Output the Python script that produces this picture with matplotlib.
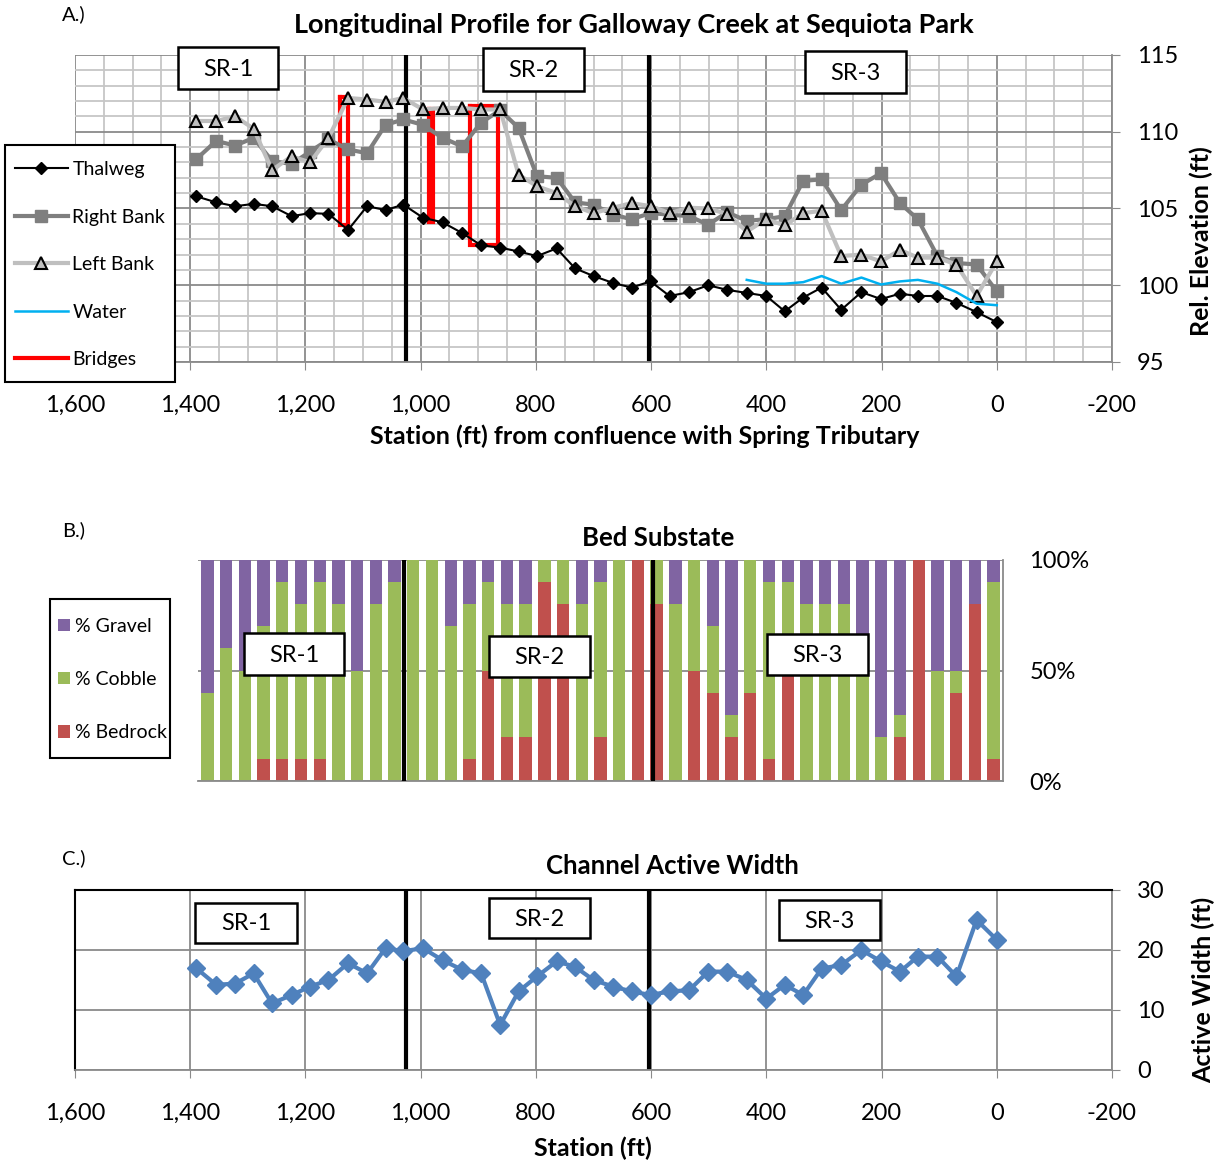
import matplotlib
matplotlib.use("Agg")
import matplotlib.pyplot as plt
from matplotlib.ticker import MultipleLocator, FuncFormatter
from matplotlib.lines import Line2D
from matplotlib.patches import Rectangle

plt.rcParams['font.family'] = ['Lato', 'DejaVu Sans']

# ---- data -------------------------------------------------------------
stations = [1390, 1355, 1322, 1290, 1258, 1224, 1192, 1160, 1126, 1093, 1061,
            1030, 996, 962, 928, 895, 862, 830, 798, 764, 732, 700, 666, 634,
            601, 568, 534, 501, 468, 434, 400, 368, 336, 304, 270, 235, 201,
            168, 137, 103, 70, 35, 0]

thalweg = [105.8, 105.4, 105.15, 105.3, 105.15, 104.5, 104.7, 104.65, 103.6,
           105.15, 104.9, 105.25, 104.4, 104.1, 103.4, 102.6, 102.45, 102.2,
           101.9, 102.4, 101.1, 100.6, 100.15, 99.85, 100.25, 99.3, 99.55,
           100.0, 99.7, 99.5, 99.3, 98.3, 99.2, 99.85, 98.4, 99.55, 99.1,
           99.45, 99.3, 99.3, 98.85, 98.25, 97.6]

right_bank = [108.2, 109.4, 109.1, 109.6, 108.1, 107.9, 108.7, 109.5, 108.85,
              108.6, 110.45, 110.8, 110.45, 109.6, 109.05, 110.6, 111.4,
              110.25, 107.1, 107.0, 105.4, 105.25, 104.6, 104.3, 104.7, 104.6,
              104.5, 103.95, 104.75, 104.2, 104.3, 104.5, 106.8, 106.9, 104.9,
              106.55, 107.3, 105.35, 104.3, 101.9, 101.45, 101.35, 99.6]

left_bank = [110.7, 110.7, 111.0, 110.2, 107.5, 108.4, 108.0, 109.6, 112.2,
             112.1, 111.95, 112.2, 111.45, 111.55, 111.55, 111.45, 111.45,
             107.2, 106.45, 106.0, 105.15, 104.7, 105.05, 105.35, 105.15,
             104.7, 105.05, 105.0, 104.65, 103.5, 104.3, 103.9, 104.7, 104.85,
             101.9, 102.0, 101.55, 102.3, 101.8, 101.8, 101.35, 99.3, 101.55]

water_stations = [434, 400, 368, 336, 304, 270, 235, 201, 168, 137, 103, 70, 35, 0]
water = [100.35, 100.1, 100.1, 100.2, 100.6, 100.1, 100.5, 100.05, 100.25,
         100.35, 100.1, 99.55, 98.8, 98.7]

# bridges: (upstream station, downstream station, top, bottom)
bridge_up = [1140, 985, 914]
bridge_down = [1126, 978, 866]
bridge_top = [112.25, 111.5, 111.65]
bridge_bottom = [103.9, 104.15, 102.6]

reach_breaks = [1025, 603]
reach_names = ['SR-1', 'SR-2', 'SR-3']

gravel = [60, 40, 50, 30, 10, 20, 10, 20, 50, 20, 10,
          0, 0, 30, 20, 10, 20, 20, 0, 0, 20, 10,
          0, 0, 0, 20, 0, 30, 70, 0, 10, 10, 20, 20, 20, 40, 80, 70, 0, 50, 50, 20, 10]
cobble = [40, 60, 50, 60, 80, 70, 80, 80, 50, 80, 90,
          100, 100, 70, 70, 40, 60, 60, 10, 20, 80, 70,
          100, 0, 20, 80, 50, 30, 10, 60, 80, 40, 80, 80, 80, 60, 20, 10, 0, 50, 10, 0, 80]
bedrock = [0, 0, 0, 10, 10, 10, 10, 0, 0, 0, 0,
           0, 0, 0, 10, 50, 20, 20, 90, 80, 0, 20,
           0, 100, 80, 0, 50, 40, 20, 40, 10, 50, 0, 0, 0, 0, 0, 20, 100, 0, 40, 80, 10]
bar_breaks = [10.5, 23.8]

active_width = [17.0, 14.2, 14.4, 16.1, 11.1, 12.5, 13.9, 15.0, 17.8, 16.1,
                20.3, 19.8, 20.3, 18.3, 16.7, 16.1, 7.5, 13.1, 15.6, 18.1,
                17.2, 15.0, 13.9, 13.1, 12.5, 13.1, 13.3, 16.4, 16.4, 15.0,
                11.9, 14.2, 12.5, 16.9, 17.5, 20.0, 18.1, 16.4, 18.9, 18.9,
                15.6, 25.0, 21.7]

W, H = 1225, 1166
fig = plt.figure(figsize=(W / 100, H / 100), dpi=100)

TICK_FS = 17
LABEL_FS = 18
TITLE_FS = 18.5


def box(l, t, r, b):
    return [l / W, 1 - b / H, (r - l) / W, (b - t) / H]


def ftext(x, y, s, **kw):
    fig.text(x / W, 1 - y / H, s, **kw)


def frame(l, t, r, b, lw=1.8, z=19):
    fig.patches.append(Rectangle((l / W, 1 - b / H), (r - l) / W, (b - t) / H,
                                 transform=fig.transFigure, fc='white',
                                 ec='black', lw=lw, zorder=z))


def sr_box(l, t, r, b, s):
    frame(l, t, r, b)
    ftext((l + r) / 2, (t + b) / 2 + 1, s, ha='center', va='center',
          fontsize=17, zorder=20)


def place_label(lbl, ax, x, y, top, bottom, left, right):
    # put an axis label centred on pixel (x, y)
    lbl.set_ha('center')
    lbl.set_va('center')
    return ((x - left) / (right - left), (bottom - y) / (bottom - top))


comma = FuncFormatter(lambda v, p: f"{v:,.0f}")
GRID_MAJ = '#8a8a8a'
GRID_MIN = '#c6c6c6'

# ---- A: longitudinal profile -----------------------------------------
ax1 = fig.add_axes(box(75, 55, 1112, 362))
ax1.set_xlim(1600, -200)
ax1.set_ylim(95, 115)
ax1.xaxis.set_major_locator(MultipleLocator(200))
ax1.xaxis.set_minor_locator(MultipleLocator(50))
ax1.yaxis.set_major_locator(MultipleLocator(5))
ax1.yaxis.set_minor_locator(MultipleLocator(1))
ax1.xaxis.set_major_formatter(comma)
ax1.grid(which='minor', color=GRID_MIN, lw=1.3)
ax1.grid(which='major', color=GRID_MAJ, lw=1.3)
ax1.set_axisbelow(True)
ax1.yaxis.tick_right()
ax1.yaxis.set_label_position('right')
ax1.tick_params(which='major', length=6, color=GRID_MAJ, labelsize=TICK_FS)
ax1.tick_params(axis='x', which='major', pad=18)
ax1.tick_params(axis='y', which='major', pad=12)
ax1.tick_params(which='minor', length=0)
for s in ['left', 'top']:
    ax1.spines[s].set_visible(False)
for s in ['bottom', 'right']:
    ax1.spines[s].set_color(GRID_MAJ)
    ax1.spines[s].set_linewidth(1.3)

for xb in reach_breaks:
    ax1.axvline(xb, color='black', lw=3, zorder=2)

for i in range(len(bridge_up)):
    ax1.plot([bridge_up[i], bridge_down[i], bridge_down[i], bridge_up[i], bridge_up[i]],
             [bridge_top[i], bridge_top[i], bridge_bottom[i], bridge_bottom[i], bridge_top[i]],
             color='#ff0000', lw=3, zorder=3, solid_joinstyle='miter')

h_rb, = ax1.plot(stations, right_bank, color='#7f7f7f', lw=3, marker='s', ms=9,
                 mfc='#7f7f7f', mec='#7f7f7f', zorder=4)
h_lb, = ax1.plot(stations, left_bank, color='#bfbfbf', lw=3, marker='^', ms=9,
                 mfc='#bfbfbf', mec='black', mew=1.5, zorder=5)
h_th, = ax1.plot(stations, thalweg, color='black', lw=1.5, marker='D', ms=6.5,
                 mfc='black', mec='black', zorder=6)
h_wa, = ax1.plot(water_stations, water, color='#00b0f0', lw=1.8, zorder=7)
h_br = Line2D([], [], color='#ff0000', lw=3)

ax1.set_xlabel('Station (ft) from confluence with Spring Tributary',
               fontsize=LABEL_FS, fontweight='bold')
ax1.xaxis.set_label_coords(*place_label(ax1.xaxis.label, ax1, 645, 436, 55, 362, 75, 1112))
ax1.set_ylabel('Rel. Elevation (ft)', fontsize=LABEL_FS, fontweight='bold')
ax1.yaxis.set_label_coords(*place_label(ax1.yaxis.label, ax1, 1201, 241, 55, 362, 75, 1112))
ftext(634, 25, 'Longitudinal Profile for Galloway Creek at Sequiota Park',
      ha='center', va='center', fontsize=19.5, fontweight='bold')
ftext(62, 14, 'A.)', ha='left', va='center', fontsize=14.5)

sr_box(178, 47, 278, 89, reach_names[0])
sr_box(483, 48, 584, 91, reach_names[1])
sr_box(805, 51, 906, 93, reach_names[2])

frame(5, 145, 175, 382, lw=1.5, z=18)
leg = fig.legend([h_th, h_rb, h_lb, h_wa, h_br],
                 ['Thalweg', 'Right Bank', 'Left Bank', 'Water', 'Bridges'],
                 loc='upper left', bbox_to_anchor=(15 / W, 1 - 161 / H),
                 fontsize=14, frameon=False, labelspacing=1.57, handlelength=2.7,
                 handletextpad=0.25, borderpad=0, borderaxespad=0)
leg.set_zorder(21)

# ---- B: bed substrate -------------------------------------------------
ax2 = fig.add_axes(box(198, 560, 1003, 781))
xs = list(range(len(gravel)))
base2 = [b + c for b, c in zip(bedrock, cobble)]
bw = 0.66
hb = ax2.bar(xs, bedrock, width=bw, color='#c0504d', zorder=2)
hc = ax2.bar(xs, cobble, bottom=bedrock, width=bw, color='#9bbb59', zorder=2)
hg = ax2.bar(xs, gravel, bottom=base2, width=bw, color='#8064a2', zorder=2)
ax2.set_xlim(-0.5, len(gravel) - 0.5)
ax2.set_ylim(0, 100)
ax2.set_yticks([0, 50, 100])
ax2.yaxis.set_major_formatter(FuncFormatter(lambda v, p: f"{v:.0f}%"))
ax2.yaxis.tick_right()
ax2.set_xticks([])
ax2.grid(axis='y', color=GRID_MAJ, lw=1.3)
ax2.set_axisbelow(True)
ax2.tick_params(axis='y', length=0, labelsize=TICK_FS, pad=19)
for s in ['left', 'top']:
    ax2.spines[s].set_visible(False)
for s in ['bottom', 'right']:
    ax2.spines[s].set_color(GRID_MAJ)
    ax2.spines[s].set_linewidth(1.3)
for xb in bar_breaks:
    ax2.axvline(xb, color='black', lw=3, zorder=3)

ftext(658, 538, 'Bed Substate', ha='center', va='center', fontsize=TITLE_FS, fontweight='bold')
ftext(62, 530, 'B.)', ha='left', va='center', fontsize=14.5)
sr_box(244, 633, 344, 675, reach_names[0])
sr_box(489, 636, 590, 677, reach_names[1])
sr_box(767, 634, 868, 675, reach_names[2])

frame(50, 599, 170, 758, lw=1.5, z=18)
leg2 = fig.legend([hg, hc, hb], ['% Gravel', '% Cobble', '% Bedrock'],
                  loc='upper left', bbox_to_anchor=(58 / W, 1 - 618 / H),
                  fontsize=14, frameon=False, labelspacing=1.86,
                  handlelength=0.6, handleheight=0.6, handletextpad=0.25,
                  borderpad=0, borderaxespad=0)
leg2.set_zorder(21)

# ---- C: active width --------------------------------------------------
ax3 = fig.add_axes(box(75, 890, 1112, 1070))
ax3.set_xlim(1600, -200)
ax3.set_ylim(0, 30)
ax3.xaxis.set_major_locator(MultipleLocator(200))
ax3.yaxis.set_major_locator(MultipleLocator(10))
ax3.xaxis.set_major_formatter(comma)
ax3.grid(color=GRID_MAJ, lw=1.3)
ax3.set_axisbelow(True)
ax3.yaxis.tick_right()
ax3.yaxis.set_label_position('right')
ax3.tick_params(which='major', length=6, color=GRID_MAJ, labelsize=TICK_FS)
ax3.tick_params(axis='x', pad=18)
ax3.tick_params(axis='y', pad=12)
for s in ['left', 'top']:
    ax3.spines[s].set_color('black')
    ax3.spines[s].set_linewidth(1.5)
for s in ['bottom', 'right']:
    ax3.spines[s].set_color(GRID_MAJ)
    ax3.spines[s].set_linewidth(1.3)
for xb in reach_breaks:
    ax3.axvline(xb, color='black', lw=3, zorder=2)
ax3.plot(stations, active_width, color='#4f81bd', lw=3, marker='D', ms=9.5,
         mfc='#4f81bd', mec='#4f81bd', zorder=4)
ax3.set_xlabel('Station (ft)', fontsize=LABEL_FS, fontweight='bold')
ax3.xaxis.set_label_coords(*place_label(ax3.xaxis.label, ax3, 593, 1148, 890, 1070, 75, 1112))
ax3.set_ylabel('Active Width (ft)', fontsize=LABEL_FS, fontweight='bold')
ax3.yaxis.set_label_coords(*place_label(ax3.yaxis.label, ax3, 1203, 990, 890, 1070, 75, 1112))

ftext(672, 866, 'Channel Active Width', ha='center', va='center', fontsize=TITLE_FS, fontweight='bold')
ftext(62, 858, 'C.)', ha='left', va='center', fontsize=14.5)
sr_box(195, 903, 297, 943, reach_names[0])
sr_box(489, 898, 590, 938, reach_names[1])
sr_box(779, 900, 880, 940, reach_names[2])

fig.savefig('out.png', dpi=100)
